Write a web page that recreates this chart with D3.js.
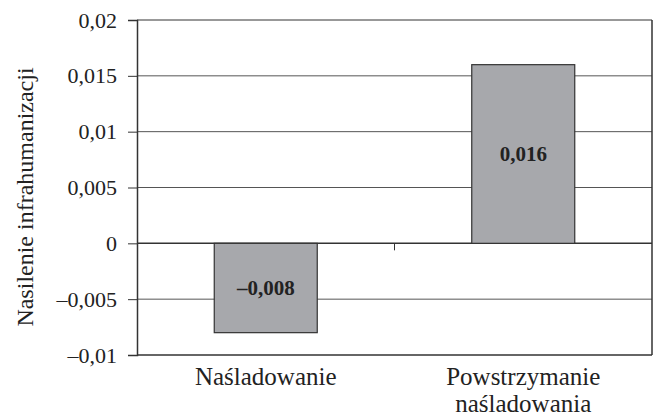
<!DOCTYPE html>
<html>
<head>
<meta charset="utf-8">
<script src="https://cdn.jsdelivr.net/npm/d3@7"></script>
<style>
  body { margin: 0; background: #fff; }
  text { font-family: "Liberation Serif", "Times New Roman", serif; fill: #222; }
</style>
</head>
<body>
<svg width="653" height="418"></svg>
<script>
let categories = [["Naśladowanie"], ["Powstrzymanie", "naśladowania"]];
let values = [-0.008, 0.016];
let valueLabels = ["–0,008", "0,016"];
let yTicks = [-0.01, -0.005, 0, 0.005, 0.01, 0.015, 0.02];

let svg = d3.select("svg");
let plotLeft = 137, plotRight = 652, plotTop = 20, plotBottom = 355;

let fmt = v => {
  if (v === 0) return "0";
  let s = String(+v.toFixed(3)).replace(".", ",");
  return s.replace("-", "–");
};

let xScale = d3.scaleBand()
  .domain(d3.range(values.length))
  .range([plotLeft, plotRight])
  .paddingInner(0.6)
  .paddingOuter(0.3);

let yScale = d3.scaleLinear()
  .domain([-0.01, 0.02])
  .range([plotBottom, plotTop]);

// gridlines
svg.append("g")
  .selectAll("line")
  .data(yTicks)
  .enter()
  .append("line")
  .attr("x1", plotLeft)
  .attr("x2", plotRight)
  .attr("y1", d => yScale(d))
  .attr("y2", d => yScale(d))
  .attr("stroke", d => (d === 0 || d === -0.01 || d === 0.02) ? "#333" : "#555")
  .attr("stroke-width", d => (d === 0 || d === -0.01) ? 1.5 : 1);

// right border
svg.append("line")
  .attr("x1", plotRight).attr("x2", plotRight)
  .attr("y1", plotTop).attr("y2", plotBottom)
  .attr("stroke", "#333").attr("stroke-width", 1.5);

// y axis
let yAxis = d3.axisLeft(yScale)
  .tickValues(yTicks)
  .tickSize(9)
  .tickPadding(11)
  .tickFormat(fmt);

let yg = svg.append("g")
  .attr("transform", `translate(${plotLeft}, 0)`)
  .call(yAxis);
yg.select(".domain").attr("stroke", "#333").attr("stroke-width", 1.5);
yg.selectAll(".tick line").attr("stroke", "#333");
yg.selectAll(".tick text")
  .style("font-family", '"Liberation Serif", serif')
  .style("font-size", "22px")
  .attr("fill", "#222");

// category divider tick on zero line
svg.append("line")
  .attr("x1", (plotLeft + plotRight) / 2).attr("x2", (plotLeft + plotRight) / 2)
  .attr("y1", yScale(0)).attr("y2", yScale(0) + 7)
  .attr("stroke", "#333");

// bars
svg.selectAll("rect.bar")
  .data(values)
  .enter()
  .append("rect")
  .attr("class", "bar")
  .attr("x", (d, i) => xScale(i))
  .attr("width", xScale.bandwidth())
  .attr("y", d => yScale(Math.max(0, d)))
  .attr("height", d => Math.abs(yScale(d) - yScale(0)))
  .attr("fill", "#a7a8ac")
  .attr("stroke", "#333")
  .attr("stroke-width", 1.2);

// value labels
svg.selectAll("text.val")
  .data(values)
  .enter()
  .append("text")
  .attr("class", "val")
  .attr("x", (d, i) => xScale(i) + xScale.bandwidth() / 2)
  .attr("y", d => (yScale(d) + yScale(0)) / 2)
  .attr("dy", "0.35em")
  .attr("text-anchor", "middle")
  .style("font-size", "21px")
  .style("font-weight", "bold")
  .text((d, i) => valueLabels[i]);

// category labels
categories.forEach((lines, i) => {
  let t = svg.append("text")
    .attr("text-anchor", "middle")
    .style("font-size", "25px");
  lines.forEach((ln, j) => {
    t.append("tspan")
      .attr("x", xScale(i) + xScale.bandwidth() / 2)
      .attr("y", 385 + j * 27)
      .text(ln);
  });
});

// y title
svg.append("text")
  .attr("transform", "translate(33, 197) rotate(-90)")
  .attr("text-anchor", "middle")
  .style("font-size", "24px")
  .text("Nasilenie infrahumanizacji");
</script>
</body>
</html>
